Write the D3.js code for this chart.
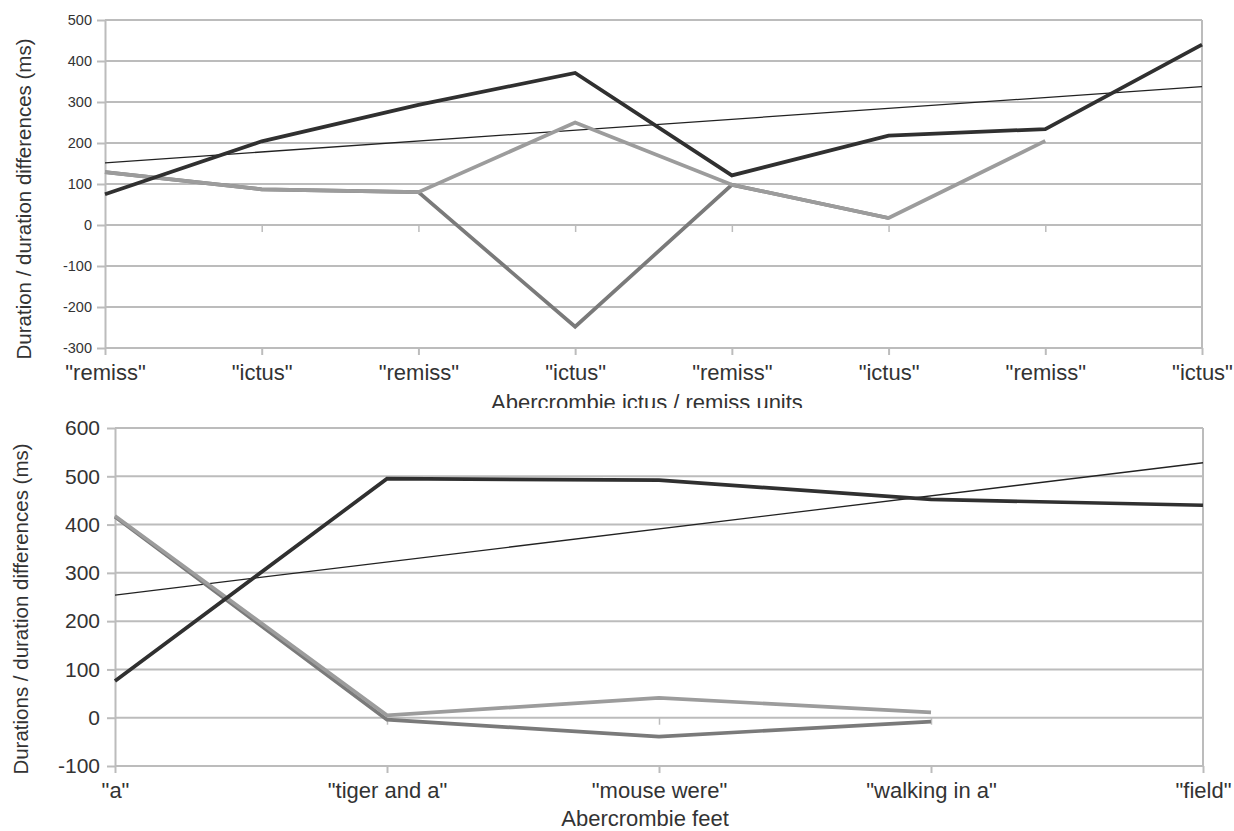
<!DOCTYPE html>
<html>
<head>
<meta charset="utf-8">
<script src="https://cdn.jsdelivr.net/npm/d3@7"></script>
<style>
  html, body { margin: 0; padding: 0; background: #fff; }
  svg { display: block; font-family: "Liberation Sans", Arial, sans-serif; }
</style>
</head>
<body>
<svg id="chart" width="1234" height="831"></svg>
<script>
// ---- Upper panel: ictus / remiss units ----
const unitCats = ['"remiss"', '"ictus"', '"remiss"', '"ictus"', '"remiss"', '"ictus"', '"remiss"', '"ictus"'];
const unitDurations = [75, 204, 293, 371, 121, 218, 234, 440];
const unitDiffA = [129, 87, 80, 250, 98, 17, 205, null];
const unitDiffB = [129, 87, 80, -248, 98, 17, null, null];
const unitTicks = [-300, -200, -100, 0, 100, 200, 300, 400, 500];

// ---- Lower panel: feet ----
const feetCats = ['"a"', '"tiger and a"', '"mouse were"', '"walking in a"', '"field"'];
const feetDurations = [76, 495, 492, 452, 440];
const feetDiffA = [418, 5, 41, 11, null];
const feetDiffB = [416, -4, -39, -8, null];
const feetTicks = [-100, 0, 100, 200, 300, 400, 500, 600];

const GRID = "#bcbcbc";
const TEXT = "#333";
const DARK = "#303030";
const LIGHT = "#9c9c9c";
const MID = "#7a7a7a";

const svg = d3.select("#chart");

// least-squares trend of a series against its category index
function trend(values) {
  const pts = values.map((v, i) => [i, v]).filter(p => p[1] != null);
  const mx = d3.mean(pts, p => p[0]), my = d3.mean(pts, p => p[1]);
  const sxy = d3.sum(pts, p => (p[0] - mx) * (p[1] - my));
  const sxx = d3.sum(pts, p => (p[0] - mx) ** 2);
  const slope = sxy / sxx, icpt = my - slope * mx;
  const n = values.length;
  return [[0, icpt], [n - 1, icpt + slope * (n - 1)]];
}

function panel(o) {
  const g = svg.append("g");
  if (o.clipBottom) {
    const id = "clip-" + o.id;
    svg.append("clipPath").attr("id", id)
      .append("rect").attr("x", 0).attr("y", 0).attr("width", 1234).attr("height", o.clipBottom);
    g.attr("clip-path", `url(#${id})`);
  }
  const n = o.cats.length;
  const x = d3.scaleLinear().domain([0, n - 1]).range([o.x0, o.x1]);
  const y = d3.scaleLinear().domain([o.ticks[0], o.ticks[o.ticks.length - 1]]).range([o.yBottom, o.yTop]);

  // horizontal gridlines
  g.append("g").selectAll("line").data(o.ticks).join("line")
    .attr("x1", o.x0).attr("x2", o.x1)
    .attr("y1", d => y(d)).attr("y2", d => y(d))
    .attr("stroke", GRID).attr("stroke-width", 2);

  // y axis with tick labels (plain hyphen for negatives)
  const ya = g.append("g").attr("transform", `translate(${o.x0},0)`)
    .call(d3.axisLeft(y).tickValues(o.ticks).tickFormat(d => String(d))
      .tickSize(8).tickSizeOuter(0).tickPadding(o.yPad));
  ya.select(".domain").attr("stroke", GRID).attr("stroke-width", 2);
  ya.selectAll(".tick line").attr("stroke", GRID).attr("stroke-width", 2);
  ya.selectAll(".tick text").attr("fill", TEXT).style("font-size", o.yFont + "px")
    .style("font-family", '"Liberation Sans", Arial, sans-serif');

  // right border
  g.append("line").attr("x1", o.x1).attr("x2", o.x1).attr("y1", o.yTop).attr("y2", o.yBottom)
    .attr("stroke", GRID).attr("stroke-width", 2);

  // category axis at the bottom
  const xa = g.append("g").attr("transform", `translate(0,${o.yBottom})`)
    .call(d3.axisBottom(x).tickValues(d3.range(n)).tickFormat(i => o.cats[i])
      .tickSize(7).tickSizeOuter(0).tickPadding(9));
  xa.select(".domain").remove();
  xa.selectAll(".tick line").attr("stroke", GRID).attr("stroke-width", 2);
  xa.selectAll(".tick text").attr("fill", TEXT).style("font-size", "22px")
    .style("font-family", '"Liberation Sans", Arial, sans-serif');

  // small category ticks on the zero line
  const za = g.append("g").attr("transform", `translate(0,${y(0)})`)
    .call(d3.axisBottom(x).tickValues(d3.range(1, n - 1)).tickFormat("").tickSize(7).tickSizeOuter(0));
  za.select(".domain").remove();
  za.selectAll(".tick line").attr("stroke", GRID).attr("stroke-width", 1.5);

  const line = d3.line().defined(d => d != null).x((d, i) => x(i)).y(d => y(d));

  // trend of the duration series
  const tr = trend(o.durations);
  g.append("path").datum(tr)
    .attr("d", d3.line().x(p => x(p[0])).y(p => y(p[1])))
    .attr("fill", "none").attr("stroke", "#222").attr("stroke-width", 1.3);

  g.append("path").datum(o.diffB).attr("d", line)
    .attr("fill", "none").attr("stroke", MID).attr("stroke-width", 3.7);
  g.append("path").datum(o.diffA).attr("d", line)
    .attr("fill", "none").attr("stroke", LIGHT).attr("stroke-width", 3.7);
  g.append("path").datum(o.durations).attr("d", line)
    .attr("fill", "none").attr("stroke", DARK).attr("stroke-width", 3.7);

  // axis titles
  g.append("text")
    .attr("transform", `translate(${o.yTitleX},${o.yTitleY}) rotate(-90)`)
    .attr("text-anchor", "middle").attr("fill", TEXT)
    .style("font-size", "20.5px").text(o.yTitle);
  g.append("text")
    .attr("x", o.xTitleX).attr("y", o.xTitleY)
    .attr("text-anchor", "middle").attr("fill", TEXT)
    .style("font-size", "22px").text(o.xTitle);
}

panel({
  id: "units", cats: unitCats, durations: unitDurations, diffA: unitDiffA, diffB: unitDiffB,
  ticks: unitTicks, x0: 105, x1: 1202, yTop: 20, yBottom: 348,
  yFont: 14.5, yPad: 5,
  yTitle: "Duration / duration differences (ms)", yTitleX: 31, yTitleY: 199,
  xTitle: "Abercrombie ictus / remiss units", xTitleX: 647, xTitleY: 410,
  clipBottom: 408
});

panel({
  id: "feet", cats: feetCats, durations: feetDurations, diffA: feetDiffA, diffB: feetDiffB,
  ticks: feetTicks, x0: 115, x1: 1203, yTop: 428, yBottom: 766,
  yFont: 21, yPad: 7,
  yTitle: "Durations / duration differences (ms)", yTitleX: 27.5, yTitleY: 609,
  xTitle: "Abercrombie feet", xTitleX: 645, xTitleY: 826
});
</script>
</body>
</html>
